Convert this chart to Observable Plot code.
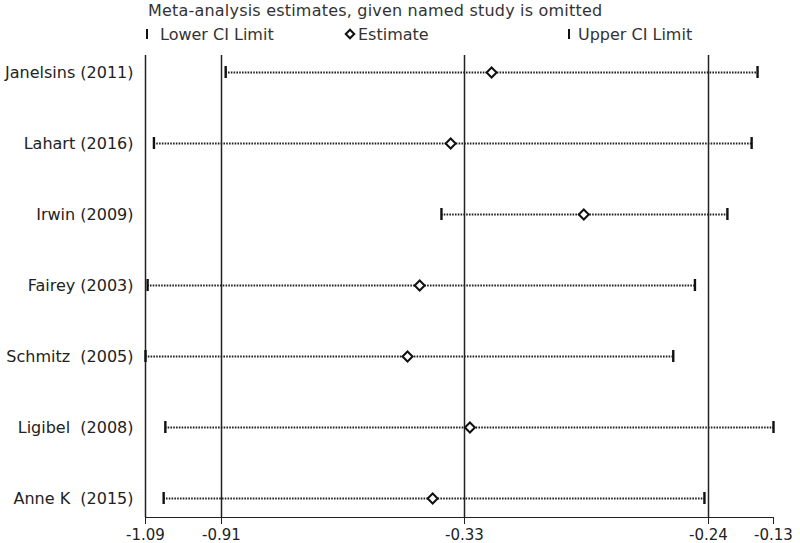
<!DOCTYPE html>
<html>
<head>
<meta charset="utf-8">
<script src="https://cdn.jsdelivr.net/npm/d3@7"></script>
<script src="https://cdn.jsdelivr.net/npm/@observablehq/plot@0.6"></script>
<style>
  html, body { margin: 0; padding: 0; background: #fff; }
  #hdr { position: relative; width: 800px; height: 48px; font-family: "DejaVu Sans", sans-serif; font-size: 16px; line-height: 16px; color: #333; }
  #hdr .t { position: absolute; white-space: pre; }
  #hdr .tk { position: absolute; width: 2px; height: 10px; background: #111; }
  #hdr .dm { position: absolute; width: 8px; height: 8px; box-sizing: border-box; border: 2px solid #111; background: #fff; transform: rotate(45deg); }
  #chart svg text { white-space: pre; }
  #chart svg [aria-label^="y-axis"] text { font-size: 16px; }
</style>
</head>
<body>
<div id="hdr">
  <div class="t" style="left:148px;top:3px;letter-spacing:0.2px">Meta-analysis estimates, given named study is omitted</div>
  <span class="tk" style="left:146px;top:29px"></span>
  <div class="t" style="left:160px;top:27px">Lower CI Limit</div>
  <span class="dm" style="left:346px;top:30px"></span>
  <div class="t" style="left:358px;top:27px">Estimate</div>
  <span class="tk" style="left:568px;top:29px"></span>
  <div class="t" style="left:578px;top:27px">Upper CI Limit</div>
</div>
<div id="chart"></div>
<script>
const studies = ["Janelsins (2011)", "Lahart (2016)", "Irwin (2009)", "Fairey (2003)", "Schmitz  (2005)", "Ligibel  (2008)", "Anne K  (2015)"];
const lower = [-0.90, -1.07, -0.385, -1.085, -1.09, -1.043, -1.047];
const estimate = [-0.320, -0.363, -0.286, -0.437, -0.466, -0.328, -0.406];
const upper = [-0.157, -0.167, -0.208, -0.245, -0.253, -0.13, -0.2415];
const tickValues = [-1.09, -0.91, -0.33, -0.24, -0.13];
const tickLabels = ["-1.09", "-0.91", "-0.33", "-0.24", "-0.13"];
const refLines = [-1.09, -0.91, -0.33, -0.24];

const rows = studies.map((s, i) => ({study: s, lower: lower[i], estimate: estimate[i], upper: upper[i]}));
const labelOf = new Map(tickValues.map((v, i) => [v, tickLabels[i]]));

const chart = Plot.plot({
  width: 800,
  height: 495,
  marginLeft: 145,
  marginRight: 27,
  marginTop: 7,
  marginBottom: 26,
  style: {fontFamily: "DejaVu Sans, sans-serif", fontSize: "15px", color: "#222", background: "#fff"},
  x: {
    type: "linear",
    domain: tickValues,
    range: [145, 221, 464, 708, 773],
    ticks: tickValues,
    tickFormat: d => labelOf.get(d),
    tickSize: 7,
    tickPadding: 5,
    line: true,
    label: null
  },
  y: {
    type: "band",
    domain: studies,
    range: [16, 457],
    paddingInner: 0.832,
    paddingOuter: 0,
    align: 0.5,
    tickSize: 0,
    tickPadding: 12,
    label: null
  },
  marks: [
    Plot.ruleX(refLines, {stroke: "#222", strokeWidth: 1.5}),
    Plot.ruleY(rows, {y: "study", x1: "lower", x2: "upper", stroke: "#222", strokeWidth: 1.9, strokeDasharray: "1.6,1.2"}),
    Plot.tickX(rows, {x: "lower", y: "study", stroke: "#111", strokeWidth: 2.4}),
    Plot.tickX(rows, {x: "upper", y: "study", stroke: "#111", strokeWidth: 2.4}),
    Plot.dot(rows, {x: "estimate", y: "study", symbol: "diamond2", r: 4.5, fill: "#fff", stroke: "#111", strokeWidth: 2})
  ]
});
document.getElementById("chart").appendChild(chart);
</script>
</body>
</html>
